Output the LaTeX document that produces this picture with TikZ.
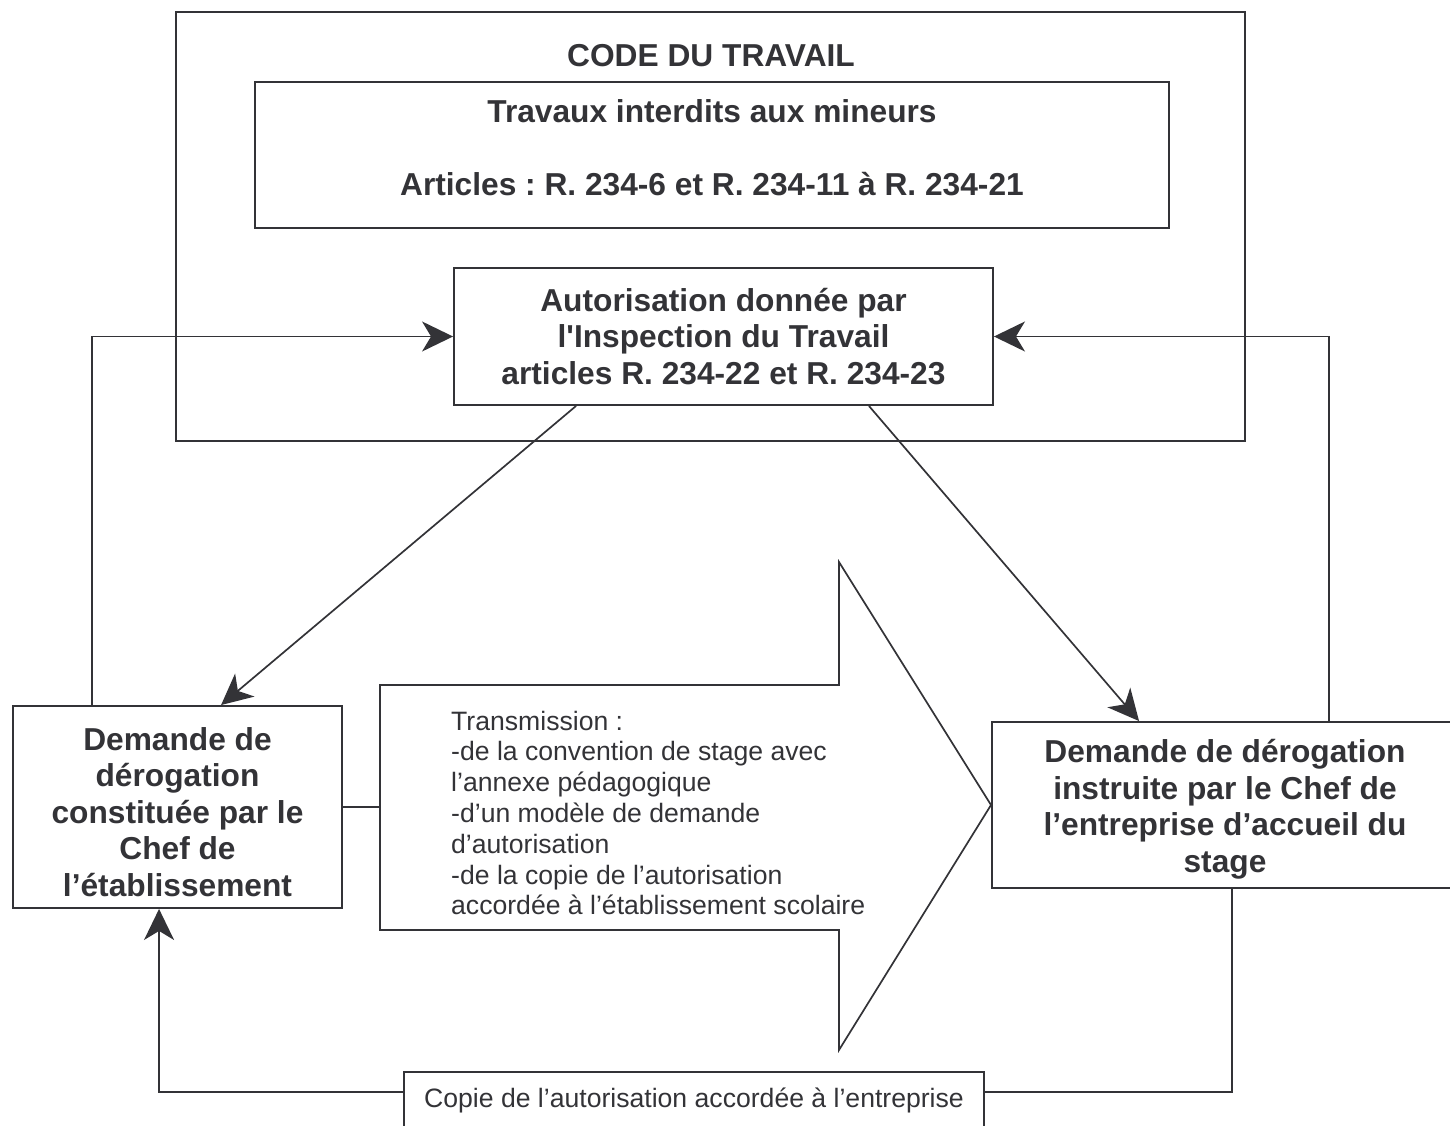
\documentclass[tikz,border=0pt]{standalone}
\usepackage{fontspec}
\setmainfont{Liberation Sans}[Ligatures=TeXOff]
\usetikzlibrary{arrows.meta}
\definecolor{ink}{RGB}{51,51,55}
\newcommand\boldtxt{\fontsize{31.7}{36.5}\selectfont\bfseries\frenchspacing}
\newcommand\plaintxt{\fontsize{26.6}{30.8}\selectfont\frenchspacing}
\tikzset{
  box/.style={draw=ink, line width=1.9pt, rectangle, inner sep=0pt, text=ink},
  boxtxt/.style={text=ink, font=\boldtxt, align=center, inner sep=0pt},
  flow/.style={draw=ink, line width=1.7pt, -{Stealth[length=31pt, width=30pt, inset=9pt]}},
  link/.style={draw=ink, line width=1.7pt}
}
\begin{document}
\begin{tikzpicture}[x=1pt, y=-1pt]
            \useasboundingbox (0,0) rectangle (1450,1126);

            \node[box, minimum width=1069, minimum height=429] (code) at (710.5, 226.5) {};
            \draw[ink, line width=2.7pt] (898, 12) -- (1207, 12);
                \node[boxtxt] (codetxt) at (711, 56) {CODE DU TRAVAIL};
            \node[box, minimum width=914, minimum height=146] (travaux) at (712, 155) {};
                \node[boxtxt] (travauxtxt) at (712, 148)
                    {Travaux interdits aux mineurs\\[36.5pt] Articles : R. 234-6 et R. 234-11 à R. 234-21};
            \node[box, font=\boldtxt, minimum width=539, minimum height=137, align=center] (autor) at (723.5, 336.5)
                {Autorisation donnée par\\ l'Inspection du Travail\\ articles R. 234-22 et R. 234-23};

            \node[box, minimum width=329, minimum height=202] (chefetab) at (177.5, 807) {};
                \node[boxtxt] (chefetabtxt) at (177.5, 812)
                    {Demande de\\ dérogation\\ constituée par le\\ Chef de\\ l’établissement};
            \node[box, minimum width=466, minimum height=166] (chefent) at (1225, 805) {};
                \node[boxtxt] (chefenttxt) at (1225, 809)
                    {Demande de dérogation\\ instruite par le Chef de\\ l’entreprise d’accueil du\\ stage};

            \draw[ink, line width=1.7pt] (380, 685) -- (839, 685) -- (839, 562) -- (991, 805)
                -- (839, 1050) -- (839, 930) -- (380, 930) -- cycle;
            \coordinate (tleft) at (380, 807);
                \node[anchor=west, align=left, text=ink, font=\plaintxt, inner sep=0pt] (transm) at (451, 813)
                    {Transmission :\\ -de la convention de stage avec\\ l’annexe pédagogique\\
                     -d’un modèle de demande\\ d’autorisation\\ -de la copie de l’autorisation\\
                     accordée à l’établissement scolaire};

            \node[box, font=\plaintxt, minimum width=580, minimum height=56] (copie) at (694, 1100)
                {Copie de l’autorisation accordée à l’entreprise};

            \draw[flow] ([xshift=80]chefetab.north west) |- (autor.west);
            \draw[flow] ([xshift=-130]chefent.north east) |- (autor.east);
            \draw[flow] ([xshift=123]autor.south west) -- ([xshift=209]chefetab.north west);
            \draw[flow] ([xshift=-125]autor.south east) -- ([xshift=148]chefent.north west);
            \draw[link] (chefetab.east) -- (tleft);
            \draw[link] ([xshift=241]chefent.south west) |- ([yshift=8]copie.east);
            \draw[flow] ([yshift=8]copie.west) -| ([xshift=147]chefetab.south west);
      \end{tikzpicture}
\end{document}
